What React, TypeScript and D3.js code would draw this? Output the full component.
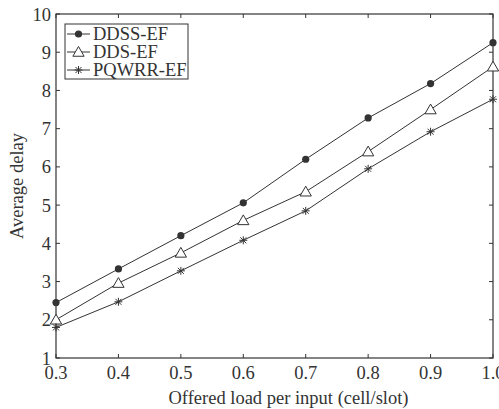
import React from "react";
import * as d3 from "d3";

const loads = [0.3, 0.4, 0.5, 0.6, 0.7, 0.8, 0.9, 1.0];
const ddss = [2.45, 3.33, 4.2, 5.06, 6.2, 7.28, 8.18, 9.25];
const dds = [2.0, 2.96, 3.75, 4.6, 5.35, 6.4, 7.5, 8.62];
const pqwrr = [1.8, 2.47, 3.28, 4.08, 4.85, 5.95, 6.92, 7.77];
const xTicks = [0.3, 0.4, 0.5, 0.6, 0.7, 0.8, 0.9, 1.0];
const yTicks = [1, 2, 3, 4, 5, 6, 7, 8, 9, 10];
const seriesNames = ["DDSS-EF", "DDS-EF", "PQWRR-EF"];

const W = 499, H = 409;
const M = { left: 56, right: 6, top: 14, bottom: 51 };
const FONT = "'Liberation Serif', 'Times New Roman', serif";
const C = "#333";
const FS = 18.5;

function Marker({ kind, x, y }: { kind: number; x: number; y: number }) {
  if (kind === 0) return <circle cx={x} cy={y} r={3.6} fill={C} />;
  if (kind === 1)
    return (
      <path
        d={d3.symbol(d3.symbolTriangle, 55)() || ""}
        transform={`translate(${x},${y + 1})`}
        fill="white"
        stroke={C}
        strokeWidth={1}
      />
    );
  return (
    <g stroke={C} strokeWidth={1}>
      <line x1={x - 4} x2={x + 4} y1={y} y2={y} />
      <line x1={x} x2={x} y1={y - 4} y2={y + 4} />
      <line x1={x - 3} x2={x + 3} y1={y - 3} y2={y + 3} />
      <line x1={x - 3} x2={x + 3} y1={y + 3} y2={y - 3} />
    </g>
  );
}

export default function App() {
  const x = d3.scaleLinear().domain([0.3, 1.0]).range([M.left, W - M.right]);
  const y = d3.scaleLinear().domain([1, 10]).range([H - M.bottom, M.top]);
  const line = d3
    .line<number>()
    .x((_, i) => x(loads[i]))
    .y((d) => y(d));
  const all = [ddss, dds, pqwrr];
  const x0 = M.left, x1 = W - M.right, y0 = H - M.bottom, y1 = M.top;
  return (
    <svg width={W} height={H} style={{ position: "absolute", left: 0, top: 0, background: "white" }}>
      <rect width={W} height={H} fill="white" />
      <rect x={x0} y={y1} width={x1 - x0} height={y0 - y1} fill="none" stroke={C} strokeWidth={1.2} />
      {xTicks.map((t, i) => (
        <g key={"x" + i}>
          <line x1={x(t)} x2={x(t)} y1={y0} y2={y0 - 4} stroke={C} />
          <line x1={x(t)} x2={x(t)} y1={y1} y2={y1 + 4} stroke={C} />
          <text x={x(t)} y={y0 + 21} textAnchor="middle" fontFamily={FONT} fontSize={FS} fill={C}>
            {t.toFixed(1)}
          </text>
        </g>
      ))}
      {yTicks.map((t, i) => (
        <g key={"y" + i}>
          <line x1={x0} x2={x0 + 4} y1={y(t)} y2={y(t)} stroke={C} />
          <line x1={x1} x2={x1 - 4} y1={y(t)} y2={y(t)} stroke={C} />
          <text x={x0 - 5} y={y(t) + 6.5} textAnchor="end" fontFamily={FONT} fontSize={FS} fill={C}>
            {t}
          </text>
        </g>
      ))}
      <text x={(x0 + x1) / 2 + 14} y={404} textAnchor="middle" fontFamily={FONT} fontSize={FS} fill={C}>
        Offered load per input (cell/slot)
      </text>
      <text
        transform={`translate(23,${(y0 + y1) / 2}) rotate(-90)`}
        textAnchor="middle"
        fontFamily={FONT}
        fontSize={FS}
        fill={C}
      >
        Average delay
      </text>
      {all.map((s, k) => (
        <g key={"s" + k}>
          <path d={line(s) || ""} fill="none" stroke={C} strokeWidth={1} />
          {s.map((v, i) => (
            <Marker key={i} kind={k} x={x(loads[i])} y={y(v)} />
          ))}
        </g>
      ))}
      <rect x={65} y={24} width={123} height={55} fill="white" stroke={C} strokeWidth={1} />
      {seriesNames.map((n, k) => {
        const ly = 34 + k * 18;
        return (
          <g key={"l" + k}>
            <line x1={67} x2={90} y1={ly} y2={ly} stroke={C} />
            <Marker kind={k} x={78.5} y={ly} />
            <text x={93} y={ly + 6} fontFamily={FONT} fontSize={FS} fill={C}>
              {n}
            </text>
          </g>
        );
      })}
    </svg>
  );
}
